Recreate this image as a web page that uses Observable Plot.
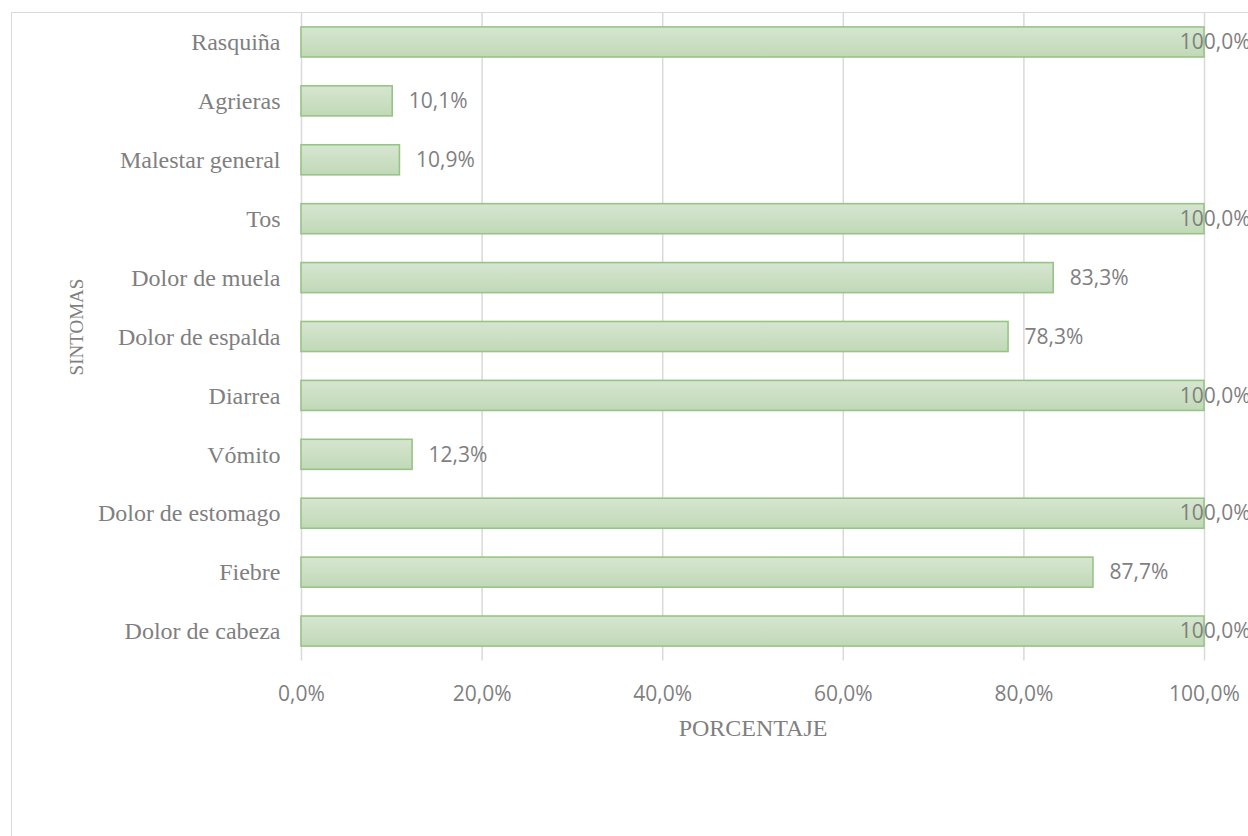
<!DOCTYPE html>
<html>
<head>
<meta charset="utf-8">
<script src="https://cdn.jsdelivr.net/npm/d3@7"></script>
<script src="https://cdn.jsdelivr.net/npm/@observablehq/plot@0.6"></script>
<style>
  html, body { margin: 0; padding: 0; background: #fff; overflow: hidden; }
  #wrap { position: relative; width: 1248px; height: 836px; overflow: hidden; }
  #border { position: absolute; left: 11px; top: 12px; width: 1400px; height: 1000px; border: 1.5px solid #d9d9d9; box-sizing: border-box; }
  #chart { position: absolute; left: 0; top: 0; }
</style>
</head>
<body>
<div id="wrap"><div id="border"></div><div id="chart"></div></div>
<script>
const categories = ["Rasquiña", "Agrieras", "Malestar general", "Tos", "Dolor de muela", "Dolor de espalda", "Diarrea", "Vómito", "Dolor de estomago", "Fiebre", "Dolor de cabeza"];
const values = [100.0, 10.1, 10.9, 100.0, 83.3, 78.3, 100.0, 12.3, 100.0, 87.7, 100.0];
const xTicks = [0, 20, 40, 60, 80, 100];
const xTitle = "PORCENTAJE";
const yTitle = "SINTOMAS";

const data = categories.map((c, i) => ({sintoma: c, valor: values[i]}));
const fmt = d => d.toFixed(1).replace(".", ",") + "%";

const gray = "#7f7f7f";
const sans = "'Open Sans', sans-serif";
const serif = "'Liberation Serif', 'Times New Roman', serif";

const defs = () => {
  const g = d3.create("svg:defs");
  const lg = g.append("linearGradient").attr("id", "barGrad").attr("x1", 0).attr("y1", 0).attr("x2", 0).attr("y2", 1);
  lg.append("stop").attr("offset", "0%").attr("stop-color", "#d6e6d0");
  lg.append("stop").attr("offset", "100%").attr("stop-color", "#c1d9b7");
  return g.node();
};

const chart = Plot.plot({
  width: 1248,
  height: 836,
  marginLeft: 301,
  marginRight: 44,
  marginTop: 12.5,
  marginBottom: 175.5,
  style: {background: "transparent", overflow: "visible"},
  x: {domain: [0, 100]},
  y: {domain: categories, paddingInner: 0.49, paddingOuter: 0.245, round: false},
  marks: [
    defs,
    Plot.gridX(xTicks, {stroke: "#d9d9d9", strokeOpacity: 1, strokeWidth: 1.5}),
    Plot.barX(data, {x: "valor", y: "sintoma", fill: "url(#barGrad)", stroke: "#98c387", strokeWidth: 1.6}),
    Plot.text(data.filter(d => d.valor < 100), {x: "valor", y: "sintoma", text: d => fmt(d.valor), textAnchor: "start", dx: 16, fill: gray, fontSize: 21, fontFamily: sans}),
    Plot.text(data.filter(d => d.valor >= 100), {x: "valor", y: "sintoma", text: d => fmt(d.valor), textAnchor: "end", dx: 46, fill: gray, fontSize: 21, fontFamily: sans}),
    Plot.axisX(xTicks, {tickSize: 0, tickPadding: 25, tickFormat: fmt, label: null, fontSize: 21, fontFamily: sans, color: gray}),
    Plot.axisY({tickSize: 0, tickPadding: 21, label: null, fontSize: 24, fontFamily: serif, color: gray}),
    Plot.text([xTitle], {frameAnchor: "bottom", text: d => d, dy: 75, fill: gray, fontSize: 24, fontFamily: serif}),
    Plot.text([yTitle], {frameAnchor: "left", textAnchor: "middle", text: d => d, rotate: -90, dx: -225, dy: -10, fill: gray, fontSize: 19, fontFamily: serif})
  ]
});
document.getElementById("chart").appendChild(chart);
</script>
</body>
</html>
